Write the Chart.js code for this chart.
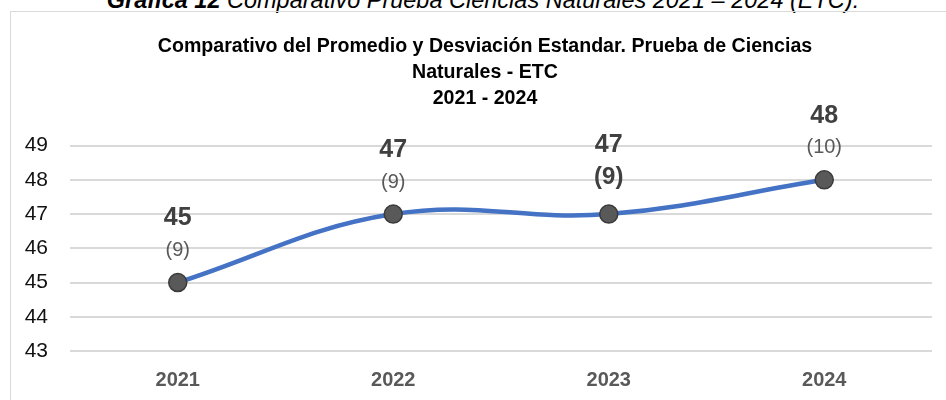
<!DOCTYPE html>
<html>
<head>
<meta charset="utf-8">
<script src="https://cdn.jsdelivr.net/npm/chart.js@4.4.0/dist/chart.umd.min.js"></script>
<style>
  body { margin: 0; background: #fff; overflow: hidden; width: 946px; height: 400px; position: relative; }
  #caption { position: absolute; left: 0; width: 966px; top: -13px; text-align: center; white-space: nowrap;
             font: italic 23.5px 'Liberation Sans', sans-serif; line-height: 26px; color: #000; }
  #box { position: absolute; left: 10px; top: 11px; width: 948px; height: 398px; border: 1px solid #d9d9d9; }
  #box canvas { position: absolute; left: 0; top: 0; }
</style>
</head>
<body>
<div id="caption"><b>Gráfica 12</b> Comparativo Prueba Ciencias Naturales 2021 – 2024 (ETC).</div>
<div id="box"><canvas id="myChart" width="948" height="398"></canvas></div>
<script>
// datos
const anios = ['2021', '2022', '2023', '2024'];
const promedio = [45, 47, 47, 48];
const desviacion = [9, 9, 9, 10];
const ticksY = [43, 44, 45, 46, 47, 48, 49];

const fuente = "'Liberation Sans', Arial, sans-serif";
const sdNegrita = [false, false, true, false];

// etiquetas encima de cada punto: promedio y (desviacion)
const etiquetas = {
  id: 'etiquetas',
  afterDatasetsDraw(chart) {
    const ctx = chart.ctx;
    const meta = chart.getDatasetMeta(0);
    meta.data.forEach((pt, i) => {
      const extra = sdNegrita[i] ? 5 : 0;
      ctx.save();
      ctx.textAlign = 'center';
      ctx.textBaseline = 'middle';
      ctx.fillStyle = '#404040';
      ctx.font = 'bold 25px ' + fuente;
      ctx.fillText(String(promedio[i]), pt.x, pt.y - 64 - extra);
      ctx.fillStyle = sdNegrita[i] ? '#404040' : '#595959';
      ctx.font = (sdNegrita[i] ? 'bold 24px ' : '20px ') + fuente;
      ctx.fillText('(' + desviacion[i] + ')', pt.x, pt.y - 32 - extra);
      ctx.restore();
    });
  }
};

const data = {
  labels: anios,
  datasets: [{
    data: promedio,
    borderColor: '#4472C4',
    borderWidth: 4.5,
    tension: 0.4,
    pointRadius: 9,
    pointBackgroundColor: '#595959',
    pointBorderColor: '#3a3a3a',
    pointBorderWidth: 1.5
  }]
};

const config = {
  type: 'line',
  data: data,
  plugins: [etiquetas],
  options: {
    responsive: false,
    animation: false,
    layout: { padding: 0 },
    plugins: {
      legend: { display: false },
      tooltip: { enabled: false },
      title: {
        display: true,
        text: ['Comparativo del Promedio y Desviación Estandar. Prueba de Ciencias', 'Naturales - ETC', '2021 - 2024'],
        color: '#000',
        font: { family: fuente, size: 19.6, weight: 'bold', lineHeight: 1.32 },
        padding: { top: 22, bottom: 34 }
      }
    },
    scales: {
      x: {
        offset: true,
        grid: { display: false, drawTicks: false },
        border: { display: false },
        ticks: { color: '#595959', padding: 17.5, font: { family: fuente, size: 20, weight: 'bold' } }
      },
      y: {
        min: 43,
        max: 49,
        afterBuildTicks: (s) => { s.ticks = ticksY.map(v => ({ value: v })); },
        afterFit: (s) => { s.width = 59; },
        grid: { color: '#d9d9d9', lineWidth: 2, drawTicks: false },
        border: { display: false },
        ticks: { color: '#111', padding: 22, font: { family: fuente, size: 21 } }
      },
      // eje vacio a la derecha solo para dejar margen sin mover el titulo
      derecha: {
        position: 'right',
        min: 43,
        max: 49,
        afterFit: (s) => { s.width = 27; },
        grid: { display: false, drawTicks: false },
        border: { display: false },
        ticks: { display: false }
      }
    }
  }
};

let myChart = new Chart(document.getElementById('myChart'), config);
</script>
</body>
</html>
